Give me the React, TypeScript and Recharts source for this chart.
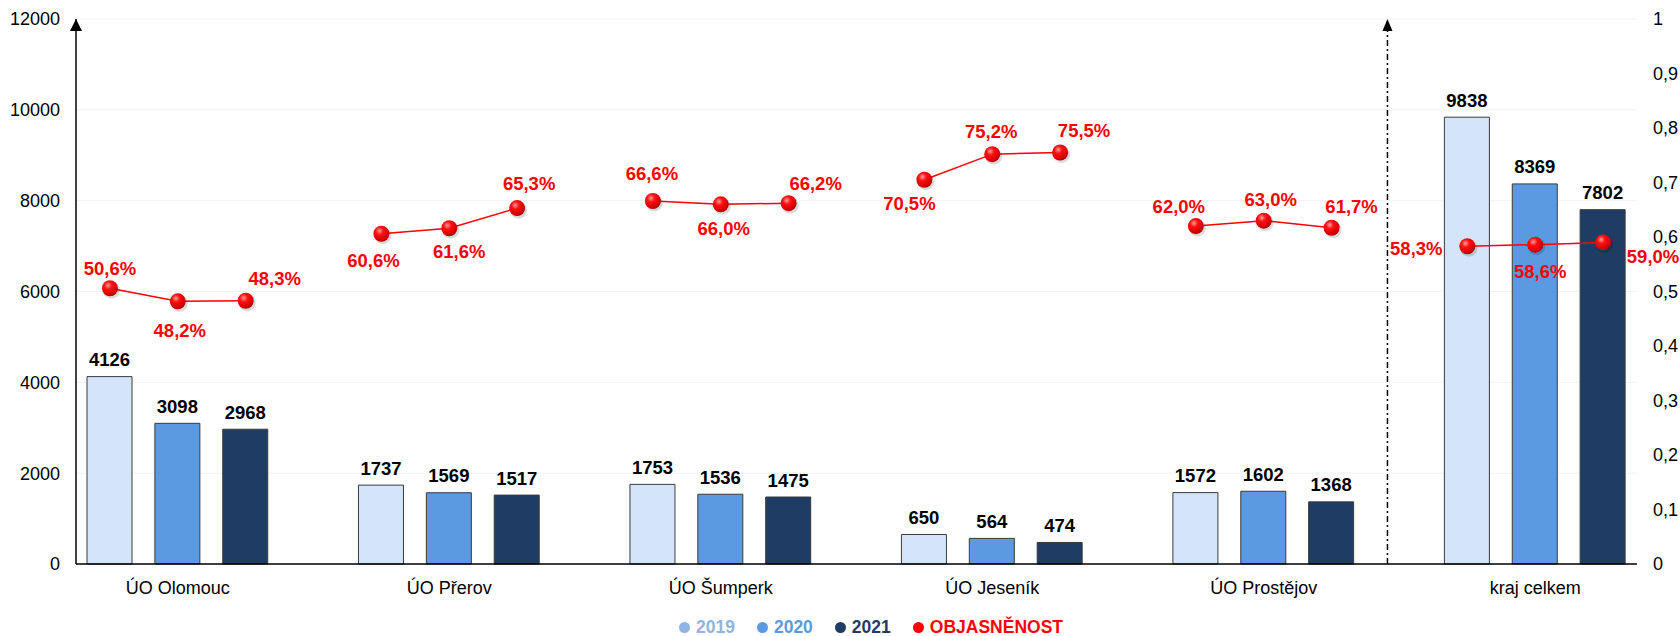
import React from 'react';
import {
  ComposedChart, Bar, Line, XAxis, YAxis, CartesianGrid, Cell, LabelList, Legend, ReferenceLine
} from 'recharts';

const categories = ['ÚO Olomouc', 'ÚO Přerov', 'ÚO Šumperk', 'ÚO Jeseník', 'ÚO Prostějov', 'kraj celkem'];
const years = ['2019', '2020', '2021'];
const rateName = 'OBJASNĚNOST';

const cases2019 = [4126, 1737, 1753, 650, 1572, 9838];
const cases2020 = [3098, 1569, 1536, 564, 1602, 8369];
const cases2021 = [2968, 1517, 1475, 474, 1368, 7802];

const rate2019 = [0.506, 0.606, 0.666, 0.705, 0.62, 0.583];
const rate2020 = [0.482, 0.616, 0.66, 0.752, 0.63, 0.586];
const rate2021 = [0.483, 0.653, 0.662, 0.755, 0.617, 0.59];

const countTicks = [0, 2000, 4000, 6000, 8000, 10000, 12000];
const rateTicks = [0, 0.1, 0.2, 0.3, 0.4, 0.5, 0.6, 0.7, 0.8, 0.9, 1];

const yearFill = ['#D4E5FB', '#5B9AE0', '#1F3D64'];
const legendColors = ['#8EB4E3', '#5B9AE0', '#1F3D64', '#FF0000'];

// where each percentage label sits relative to its point [dx, dy]
const labelShift = [
  [0, -20], [2, 29], [29, -22],
  [-8, 27], [10, 23], [12, -25],
  [-1, -28], [3, 24], [27, -20],
  [-15, 24], [-1, -23], [24, -22],
  [-17, -20], [7, -21], [20, -21],
  [-51, 2], [5, 27], [50, 14],
];

type Row = { key: string; label: string; year: number; cases: number | null; rate: number | null };

const rows: Row[] = [];
const shifts: number[][] = [];
categories.forEach((cat, ci) => {
  const cases = [cases2019[ci], cases2020[ci], cases2021[ci]];
  const rates = [rate2019[ci], rate2020[ci], rate2021[ci]];
  years.forEach((yr, yi) => {
    rows.push({ key: `${ci}-${yr}`, label: yi === 1 ? cat : '', year: yi, cases: cases[yi], rate: rates[yi] });
    shifts.push(labelShift[ci * 3 + yi]);
  });
  if (ci < categories.length - 1) {
    rows.push({ key: `gap-${ci}`, label: '', year: -1, cases: null, rate: null });
    shifts.push([0, 0]);
  }
});

const labelFor: Record<string, string> = {};
rows.forEach((r) => { labelFor[r.key] = r.label; });

const fmtRate = (v: number) => (Math.round(v * 1000) / 10).toFixed(1).replace('.', ',') + '%';

const CategoryTick = (props: any) => {
  const { x, y, payload } = props;
  const text = labelFor[payload.value];
  if (!text) return <g />;
  return (
    <text x={x} y={y + 16} textAnchor="middle" dominantBaseline="central" fontSize={18} fill="#000">
      {text}
    </text>
  );
};

const CountLabel = (props: any) => {
  const { x, y, width, value } = props;
  if (value == null) return null;
  return (
    <text x={x + width / 2} y={y - 17} textAnchor="middle" dominantBaseline="central"
      fontSize={18.5} fontWeight="bold" fill="#000">
      {value}
    </text>
  );
};

const RateLabel = (props: any) => {
  const { x, y, value, index } = props;
  if (value == null) return null;
  const [dx, dy] = shifts[index] || [0, 0];
  return (
    <text x={x + dx} y={y + dy} textAnchor="middle" dominantBaseline="central"
      fontSize={18.5} fontWeight="bold" fill="#FF0000">
      {fmtRate(value)}
    </text>
  );
};

const SphereDot = (props: any) => {
  const { cx, cy, value, index } = props;
  if (value == null || cx == null || cy == null) return <g key={`d-${index}`} />;
  return (
    <g key={`d-${index}`}>
      <circle cx={cx + 1.5} cy={cy + 2} r={8.5} fill="#000" opacity={0.15} />
      <circle cx={cx} cy={cy} r={8} fill="url(#sphere)" />
    </g>
  );
};

const DividerLine = (props: any) => {
  const { x1, y1, x2, y2 } = props;
  const top = Math.min(y1, y2);
  const bottom = Math.max(y1, y2);
  const x = (x1 + x2) / 2 - 12;
  return (
    <g>
      <line x1={x} y1={bottom} x2={x} y2={top + 10} stroke="#000" strokeWidth={1.5} strokeDasharray="6 3 2 3" />
      <path d={`M${x},${top} L${x - 5},${top + 12} L${x + 5},${top + 12} Z`} fill="#000" />
    </g>
  );
};

const LegendBox = () => {
  const names = [...years, rateName];
  return (
    <div style={{
      display: 'flex', justifyContent: 'center', alignItems: 'center', height: 24,
      paddingLeft: 84, transform: 'translateY(3px)'
    }}>
      {names.map((n, i) => (
        <div key={n} style={{ display: 'flex', alignItems: 'center', marginRight: 22 }}>
          <span style={{ width: 11, height: 11, borderRadius: '50%', background: legendColors[i], marginRight: 6, display: 'inline-block' }} />
          <span style={{ color: legendColors[i], fontWeight: 'bold', fontSize: 17.5, lineHeight: '18px' }}>{n}</span>
        </div>
      ))}
    </div>
  );
};

export default function App() {
  return (
    <div style={{ width: 1680, height: 636, fontFamily: "'Liberation Sans', Arial, sans-serif", background: '#fff' }}>
      <style>{'body{margin:0}'}</style>
      <ComposedChart width={1680} height={636} data={rows} barSize={45}
        margin={{ top: 19, right: 0, left: 0, bottom: 0 }}>
        <defs>
          <radialGradient id="sphere" cx="38%" cy="32%" r="70%">
            <stop offset="0%" stopColor="#FF9A9A" />
            <stop offset="35%" stopColor="#FF1010" />
            <stop offset="85%" stopColor="#D00000" />
            <stop offset="100%" stopColor="#A00000" />
          </radialGradient>
          <marker id="axisArrow" viewBox="0 0 10 10" refX="10" refY="5" markerWidth="12" markerHeight="12"
            markerUnits="userSpaceOnUse" orient="auto-start-reverse">
            <path d="M0,0 L10,5 L0,10 Z" fill="#000" />
          </marker>
        </defs>
        <CartesianGrid yAxisId="left" vertical={false} stroke="#F2F2F2" />
        <XAxis dataKey="key" type="category" interval={0} height={48} tickLine={false}
          axisLine={{ stroke: '#000', strokeWidth: 1.5 }} tick={<CategoryTick />} />
        <YAxis yAxisId="left" orientation="left" width={76} domain={[0, 12000]} ticks={countTicks}
          tickLine={false} tickMargin={10}
          axisLine={{ stroke: '#000', strokeWidth: 1.5, markerStart: 'url(#axisArrow)' }}
          tick={{ fontSize: 18, fill: '#000' }} />
        <YAxis yAxisId="right" orientation="right" width={43} domain={[0, 1]} ticks={rateTicks}
          tickLine={false} axisLine={false} tickMargin={10}
          tickFormatter={(v: number) => String(v).replace('.', ',')}
          tick={{ fontSize: 18, fill: '#000', textAnchor: 'start' }} />
        <ReferenceLine yAxisId="left" x="gap-4" shape={<DividerLine />} />
        <Bar yAxisId="left" dataKey="cases" name="cases" stroke="#3A3A3A" strokeWidth={1}
          isAnimationActive={false}>
          {rows.map((r) => (
            <Cell key={r.key} fill={r.year >= 0 ? yearFill[r.year] : 'none'} />
          ))}
          <LabelList dataKey="cases" content={<CountLabel />} />
        </Bar>
        <Line yAxisId="right" dataKey="rate" name={rateName} stroke="#FF0000" strokeWidth={1.5}
          connectNulls={false} dot={SphereDot} activeDot={false} isAnimationActive={false}>
          <LabelList dataKey="rate" content={<RateLabel />} />
        </Line>
        <Legend verticalAlign="bottom" height={24} content={<LegendBox />} />
      </ComposedChart>
    </div>
  );
}
